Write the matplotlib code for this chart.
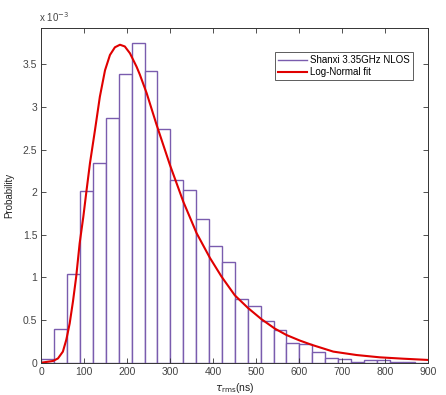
import numpy as np
import matplotlib
matplotlib.use("Agg")
import matplotlib.pyplot as plt
from matplotlib.ticker import FuncFormatter, MultipleLocator
from matplotlib.lines import Line2D

# Histogram: bin edges (ns) and probabilities (units of 1e-3)
bin_edges = [0, 30, 60, 90, 120, 150, 180, 210, 240, 270, 300, 330, 360, 390, 420,
             450, 480, 510, 540, 570, 600, 630, 660, 690, 720, 750, 780, 810, 840, 870, 900]
hist_prob_e3 = [0.04, 0.395, 1.043, 2.016, 2.34, 2.865, 3.39, 3.745, 3.42, 2.74,
                2.14, 2.03, 1.69, 1.37, 1.18, 0.75, 0.665, 0.49, 0.38, 0.235,
                0.215, 0.125, 0.055, 0.047, 0.012, 0.028, 0.028, 0.004, 0.004, 0.0]

# Log-normal fit curve
fit_x = [0, 27, 38.6, 50, 58, 65.8, 73.5, 81, 89, 97.5, 105, 113, 124.7, 136, 148,
         159.5, 171, 182.8, 194, 206, 221.6, 229, 245, 268, 299, 330, 361, 392, 419,
         450, 481, 512, 543, 570, 601, 628.6, 679, 733, 787, 841, 900]
fit_y_e3 = [0.0, 0.02, 0.05, 0.13, 0.27, 0.46, 0.72, 1.01, 1.40, 1.71, 2.02, 2.34, 2.73,
            3.12, 3.43, 3.61, 3.70, 3.73, 3.71, 3.63, 3.47, 3.38, 3.16, 2.79, 2.32, 1.89,
            1.52, 1.23, 1.01, 0.79, 0.64, 0.51, 0.40, 0.325, 0.26, 0.21, 0.13, 0.09,
            0.063, 0.047, 0.032]

hist_label = "Shanxi 3.35GHz NLOS"
fit_label = "Log-Normal fit"

plt.rcParams['font.family'] = ['Liberation Sans', 'DejaVu Sans']
plt.rcParams['mathtext.fontset'] = 'dejavusans'

fig = plt.figure(figsize=(4.46, 3.95), dpi=100)
ax = fig.add_axes([0.0928, 0.0818, 0.9603 - 0.0928, 0.9299 - 0.0818])

purple = '#7a5cae'
red = '#e00000'

edges = np.array(bin_edges, dtype=float)
heights = np.array(hist_prob_e3) * 1e-3
ax.bar(edges[:-1], heights, width=np.diff(edges), align='edge',
       facecolor='white', edgecolor=purple, linewidth=1.0)
ax.plot(np.array(fit_x), np.array(fit_y_e3) * 1e-3, color=red, linewidth=1.5,
        solid_joinstyle='round')

ax.set_xlim(0, 900)
ax.set_ylim(0, 3.93e-3)
ax.xaxis.set_major_locator(MultipleLocator(100))
ax.yaxis.set_major_locator(MultipleLocator(0.5e-3))

def yfmt(v, pos):
    s = f"{v*1e3:.1f}"
    if s.endswith(".0"):
        s = s[:-2]
    return s

ax.yaxis.set_major_formatter(FuncFormatter(yfmt))
ax.tick_params(direction='in', top=True, right=True, length=3.5, width=0.6,
               labelsize=7.5, colors='#333333', labelcolor='#444444', pad=3)
for sp in ax.spines.values():
    sp.set_linewidth(0.7)
    sp.set_color('#333333')

ax.text(-0.005, 1.012, r'x 10$^{-3}$', transform=ax.transAxes, fontsize=7,
        color='#444444', ha='left', va='bottom')

ax.set_ylabel('Probability', fontsize=7, color='#222222', labelpad=6)
ax.set_xlabel(r'$\tau_{\rm rms}$(ns)', fontsize=7.5, color='#222222', labelpad=3)

handles = [Line2D([], [], color=purple, linewidth=1.0),
           Line2D([], [], color=red, linewidth=1.5)]
leg = ax.legend(handles, [hist_label, fit_label], loc='upper right',
                bbox_to_anchor=(0.960, 0.927), borderaxespad=0, fontsize=7,
                frameon=True, fancybox=False, edgecolor='#333333',
                handlelength=3.0, handletextpad=0.3, borderpad=0.3,
                labelspacing=0.25)
leg.get_frame().set_linewidth(0.7)

fig.savefig('out.png', dpi=100, facecolor='white')
